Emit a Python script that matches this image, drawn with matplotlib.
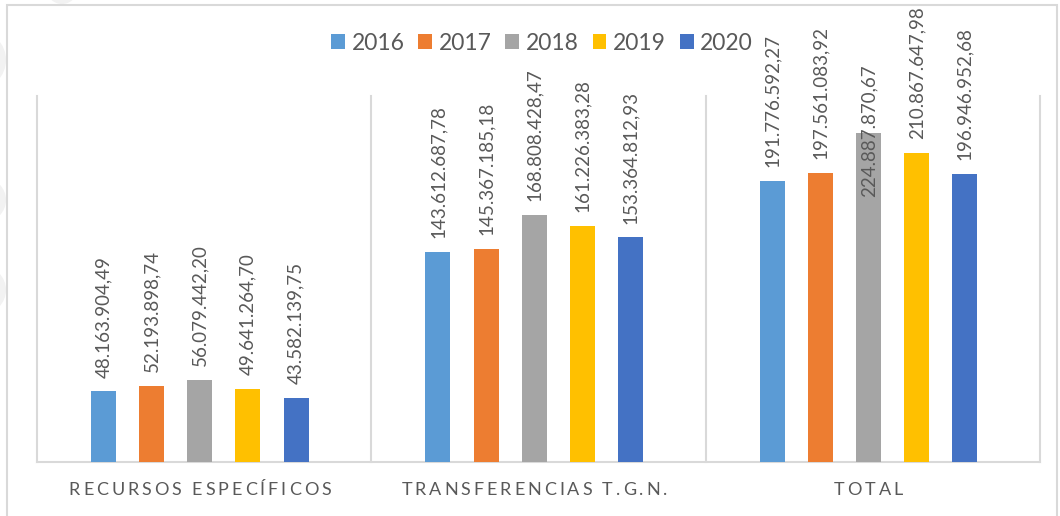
import numpy as np
import matplotlib
matplotlib.use('Agg')
import matplotlib.pyplot as plt
import matplotlib.transforms as mtransforms
from matplotlib.font_manager import FontProperties
from matplotlib.patches import Rectangle, Ellipse

plt.rcParams['font.family'] = ['Lato', 'DejaVu Sans']

categories = ['RECURSOS ESPECÍFICOS', 'TRANSFERENCIAS T.G.N.', 'TOTAL']
years = ['2016', '2017', '2018', '2019', '2020']
v2016 = [48163904.49, 143612687.78, 191776592.27]
v2017 = [52193898.74, 145367185.18, 197561083.92]
v2018 = [56079442.20, 168808428.47, 224887870.67]
v2019 = [49641264.70, 161226383.28, 210867647.98]
v2020 = [43582139.75, 153364812.93, 196946952.68]
series = [v2016, v2017, v2018, v2019, v2020]
colors = ['#5B9BD5', '#ED7D31', '#A5A5A5', '#FFC000', '#4472C4']
txt = '#595959'
grid = '#D9D9D9'

W, H = 1060, 516
fig = plt.figure(figsize=(W / 100, H / 100), dpi=100)

# faint background shapes + outer border
for (cx, cy, r) in [(-24, 60, 30), (-16, 200, 22), (-18, 290, 24), (62, -12, 16)]:
    fig.patches.append(Ellipse((cx / W, 1 - cy / H), 2 * r / W, 2 * r / H,
                               transform=fig.transFigure, color='#F2F2F2', lw=0, zorder=0))
fig.patches.append(Rectangle((7 / W, -0.02), (1057 - 7) / W, (H - 5) / H + 0.02,
                             transform=fig.transFigure, fill=False, ec=grid, lw=1.5, zorder=1))

ax = fig.add_axes([37 / W, (H - 462) / H, (1040 - 37) / W, (462 - 96) / H])
ax.set_xlim(-0.5, 2.5)
ax.set_ylim(0, 250e6)
ax.axis('off')

x = np.arange(len(categories))
bw = 25 / 335
step = 48.2 / 335
shift = -0.013
for i, (vals, c) in enumerate(zip(series, colors)):
    xs = x + shift + (i - 2) * step
    ax.bar(xs, vals, width=bw, color=c, label=years[i], zorder=2)

# separators and base line
for xv in [-0.5, 0.5, 1.5, 2.5]:
    ax.plot([xv, xv], [0, 250e6], color=grid, lw=1.5, clip_on=False, zorder=1)
ax.plot([-0.5, 2.5], [0, 0], color=grid, lw=1.5, clip_on=False, zorder=1)


def fmt(v):
    s = f'{v:,.2f}'
    return s.replace(',', 'X').replace('.', ',').replace('X', '.')


labels = []
for i, vals in enumerate(series):
    for j, v in enumerate(vals):
        xs = x[j] + shift + (i - 2) * step
        t = ax.annotate(fmt(v), (xs, v), xytext=(0, 10), textcoords='offset points',
                        rotation=90, ha='center', va='bottom', fontsize=13.5,
                        color=txt, zorder=3)
        labels.append(t)

fig.canvas.draw()
renderer = fig.canvas.get_renderer()
for t in labels:
    bb = t.get_window_extent(renderer)
    if bb.y1 > H:
        # does not fit above the bar: center it on the bar top
        t.xyann = (0, (2.5 - bb.height / 2) * 72 / 100)

# letter-spaced category labels
fs_cat = 13
fp = FontProperties(family='Lato', size=fs_cat)


def char_widths(s):
    out = []
    for ch in s:
        w, h, d = renderer.get_text_width_height_descent(ch if ch != ' ' else 'n', fp, ismath=False)
        out.append(w * 0.45 if ch == ' ' else w)
    return out


w0 = char_widths(categories[0])
spacing = (262 - sum(w0)) / (len(categories[0]) - 1)
tr = mtransforms.blended_transform_factory(ax.transData, fig.transFigure)
for j, cat in enumerate(categories):
    widths = char_widths(cat)
    total = sum(widths) + spacing * (len(cat) - 1)
    cx = x[j] + shift
    pos = -total / 2
    for ch, w in zip(cat, widths):
        off = mtransforms.offset_copy(tr, fig=fig, x=(pos + w / 2) * 72 / 100, y=0, units='points')
        fig.text(cx, 1 - 490 / H, ch, transform=off, ha='center', va='center',
                 fontproperties=fp, color=txt)
        pos += w + spacing

fig.legend(loc='center', bbox_to_anchor=((334 + 750) / 2 / W, 1 - 43 / H), ncol=5,
           frameon=False, fontsize=16.5, handlelength=0.61, handleheight=0.61,
           handletextpad=0.28, columnspacing=0.6, labelcolor=txt, borderpad=0)

fig.savefig('out.png', dpi=100)
